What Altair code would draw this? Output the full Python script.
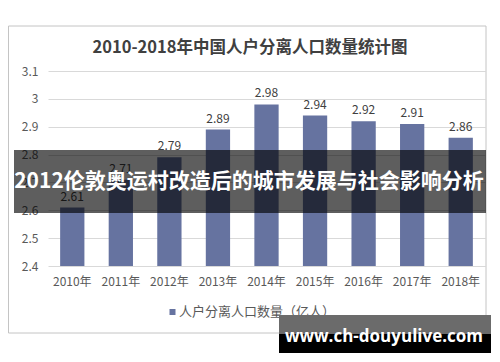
import altair as alt
import pandas as pd

years = ["2010年", "2011年", "2012年", "2013年", "2014年", "2015年", "2016年", "2017年", "2018年"]
values = [2.61, 2.71, 2.79, 2.89, 2.98, 2.94, 2.92, 2.91, 2.86]
y_ticks = [2.4, 2.5, 2.6, 2.7, 2.8, 2.9, 3.0, 3.1]
title_text = "2010-2018年中国人户分离人口数量统计图"
legend_text = "人户分离人口数量（亿人）"
banner_text = "2012伦敦奥运村改造后的城市发展与社会影响分析"
watermark_text = "www.ch-douyulive.com"

FONT = "Noto Sans CJK SC"
BAR = "#6673a0"

df = pd.DataFrame({"year": years, "value": values})
one = pd.DataFrame({"k": [0]})

W, H = 437, 195
OX, OY = 48, 71  # page coordinates of plot origin


def px(x):
    return x - OX


def py(y):
    return y - OY


x_axis = alt.Axis(labelAngle=0, labelFont=FONT, labelFontSize=12,
                  labelColor="#595959", labelPadding=10, ticks=False,
                  domain=False, grid=False, labelOverlap=False)
y_axis = alt.Axis(values=y_ticks, tickCount=8, format="~g", labelFont=FONT,
                  labelFontSize=12, labelColor="#595959",
                  labelPadding=10, ticks=False, domain=False,
                  labelOverlap=False, gridColor="#d9d9d9", gridWidth=1)
x_scale = alt.Scale(paddingInner=0.5, paddingOuter=0.25)
y_scale = alt.Scale(domain=[2.4, 3.1], zero=False, nice=False)

x_enc = alt.X("year:N", sort=years, title=None, scale=x_scale, axis=x_axis)
y_enc = alt.Y("value:Q", title=None, scale=y_scale, axis=y_axis)

border = alt.Chart(one).mark_rect(fill="white", fillOpacity=0, stroke="#c4c4c4", strokeWidth=1).encode(
    x=alt.value(px(8.5)), x2=alt.value(px(486)), y=alt.value(py(26)), y2=alt.value(py(333)))

bars = alt.Chart(df).mark_bar(color=BAR).encode(
    x=x_enc, y=y_enc, y2=alt.datum(2.4))

labels = alt.Chart(df).mark_text(font=FONT, fontSize=12, color="#404040",
                                 baseline="alphabetic", dy=-7).encode(
    x=x_enc, y=y_enc, text=alt.Text("value:Q", format=".2f"))

title = alt.Chart(one).mark_text(font=FONT, fontSize=16.5, fontWeight="bold",
                                 color="#404040", align="center", baseline="middle").encode(
    x=alt.value(px(250)), y=alt.value(py(48)), text=alt.value(title_text))

legend_sym = alt.Chart(one).mark_square(size=36, color=BAR, opacity=1).encode(
    x=alt.value(px(172.5)), y=alt.value(py(312)))
legend_lbl = alt.Chart(one).mark_text(font=FONT, fontSize=13, color="#595959",
                                      align="left", baseline="middle").encode(
    x=alt.value(px(179)), y=alt.value(py(312)), text=alt.value(legend_text))

banner = alt.Chart(one).mark_rect(color="black", opacity=0.63).encode(
    x=alt.value(px(14)), x2=alt.value(px(486)), y=alt.value(py(150)), y2=alt.value(py(213)))
banner_lbl = alt.Chart(one).mark_text(font=FONT, fontSize=21, fontWeight="bold",
                                      color="white", align="center", baseline="middle").encode(
    x=alt.value(px(249)), y=alt.value(py(182)), text=alt.value(banner_text))

wm_top = alt.Chart(one).mark_rect(color="#6b6b6b").encode(
    x=alt.value(px(279)), x2=alt.value(px(491)), y=alt.value(py(315)), y2=alt.value(py(334)))
wm_bot = alt.Chart(one).mark_rect(color="black").encode(
    x=alt.value(px(279)), x2=alt.value(px(491)), y=alt.value(py(334)), y2=alt.value(py(353)))
wm_lbl = alt.Chart(one).mark_text(font="Open Sans", fontSize=17, fontWeight="bold",
                                  color="white", align="center", baseline="middle").encode(
    x=alt.value(px(384)), y=alt.value(py(337)), text=alt.value(watermark_text))

chart = alt.layer(border, bars, labels, title, legend_sym, legend_lbl,
                  banner, banner_lbl, wm_top, wm_bot, wm_lbl).properties(
    width=W, height=H,
    autosize=alt.AutoSizeParams(type="none"),
    padding={"left": OX - 8, "top": OY - 8, "right": 7, "bottom": 88},
    background="white",
).configure_view(stroke=None)

chart.save("out.html", embed_options={"renderer": "svg", "actions": False})
